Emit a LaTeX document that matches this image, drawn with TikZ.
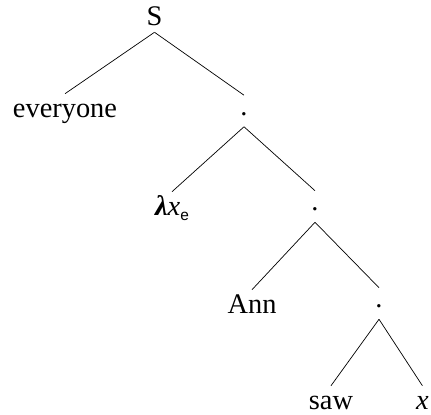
\documentclass[tikz,border=0pt]{standalone}
\usepackage{fontspec}
\setmainfont{Liberation Serif}
\newfontfamily\subfam{Liberation Sans}
\usetikzlibrary{positioning}

\tikzset{
  font=\fontsize{20.2}{24}\selectfont,
  %
  tnode/.style={inner sep=0pt, anchor=base, text=black},
  leaf/.style={tnode, text height=0.6cm, text depth=0.275cm},
  dotn/.style={tnode, text height=0.5cm, text depth=0.275cm},
  root/.style={tnode, text height=0.6cm, text depth=0.15cm},
  %
  branch/.style={draw=black, line width=0.5pt},
}

\newcommand{\lamvar}{\textbf{\textit{λ}}\textit{x}\raisebox{-0.12cm}{\subfam\fontsize{11}{11}\selectfont e}}

\begin{document}
\begin{tikzpicture}[x=1cm, y=1cm]
  \useasboundingbox (0,0) rectangle (10.775,10.375);

  % --- nodes ---------------------------------------------------------
  \node[root] (s)    at (3.8625,9.725) {S};

  \node[leaf] (every) at (1.625,7.425) {everyone};
  \node[dotn] (d1)    at (6.1,7.4875)  {.};

  \node[leaf] (lam)   at (4.3,4.975)   {\lamvar};
  \node[dotn] (d2)    at (7.875,5.1)   {.};

  \node[leaf] (ann)   at (6.3,2.525)   {Ann};
  \node[dotn] (d3)    at (9.475,2.675) {.};

  \node[leaf] (saw)   at (8.275,0.125) {saw};
  \node[leaf] (xv)    at (10.56,0.125) {\textit{x}};

  % --- branches ------------------------------------------------------
  \draw[branch] (s.south) -- (every.north);
  \draw[branch] (s.south) -- (d1.north);
  \draw[branch] (d1.south) -- (lam.north);
  \draw[branch] (d1.south) -- (d2.north);
  \draw[branch] (d2.south) -- (ann.north);
  \draw[branch] (d2.south) -- (d3.north);
  \draw[branch] (d3.south) -- (saw.north);
  \draw[branch] (d3.south) -- (xv.north);

\end{tikzpicture}
\end{document}
